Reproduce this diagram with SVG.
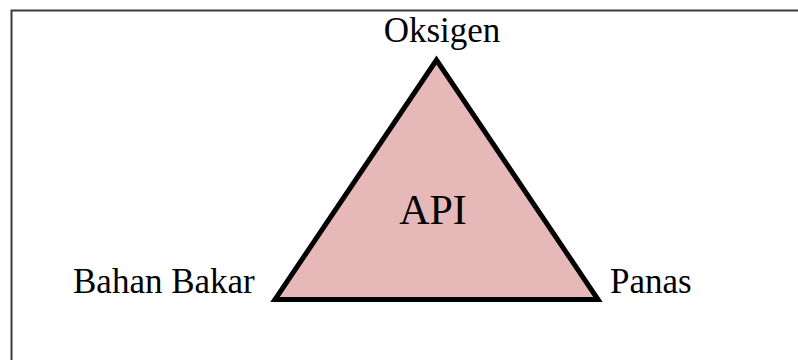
<svg xmlns="http://www.w3.org/2000/svg" width="798" height="360" viewBox="0 0 798 360">
  <style>
    .lbl { font-family: "Liberation Serif", "Times New Roman", serif; fill: #000; }
  </style>
  <rect width="798" height="360" fill="#fff"/>
  <g id="frame">
    <polyline points="11.5,360 11.5,10.5 798,10.5" fill="none" stroke="#3a3a3a" stroke-width="2"/>
  </g>
  <g id="triangle">
    <polygon points="436.5,60 275,299.5 598,299.5" fill="#e6b9b8" stroke="#000" stroke-width="5" stroke-linejoin="miter"/>
    <text class="lbl" x="433" y="224" font-size="42" text-anchor="middle">API</text>
  </g>
  <g id="oksigen">
    <text class="lbl" x="442" y="42" font-size="35" text-anchor="middle">Oksigen</text>
  </g>
  <g id="bahan-bakar">
    <text class="lbl" x="73" y="293" font-size="35">Bahan Bakar</text>
  </g>
  <g id="panas">
    <text class="lbl" x="610" y="293" font-size="35">Panas</text>
  </g>
  <g id="connectors"></g>
</svg>
